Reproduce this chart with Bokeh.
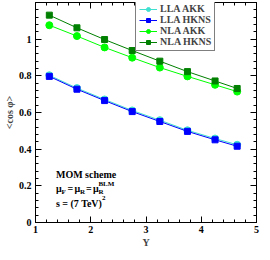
from bokeh.plotting import figure
from bokeh.models import (Range1d, LinearAxis, SingleIntervalTicker, Legend, LegendItem,
                          Label, CustomJSTickFormatter)
from bokeh.embed import file_html
from bokeh.resources import INLINE

# ---- data ----
rapidity = [1.25, 1.75, 2.25, 2.75, 3.25, 3.75, 4.25, 4.65]
lla_akk = [0.803, 0.733, 0.671, 0.611, 0.558, 0.503, 0.458, 0.424]
lla_hkns = [0.797, 0.727, 0.665, 0.605, 0.551, 0.497, 0.451, 0.416]
nla_akk = [1.076, 1.017, 0.955, 0.899, 0.845, 0.797, 0.751, 0.714]
nla_hkns = [1.131, 1.062, 0.998, 0.938, 0.880, 0.823, 0.772, 0.731]
series_names = ["LLA AKK", "LLA HKNS", "NLA AKK", "NLA HKNS"]
x_label = "Y"
y_label = "<cos \u03c6>"

FONT = "Liberation Serif"

p = figure(width=260, height=250, output_backend="svg", toolbar_location=None,
           x_range=Range1d(1, 5), y_range=Range1d(0, 1.2),
           min_border_left=0, min_border_right=4, min_border_top=2, min_border_bottom=0)
p.grid.visible = False
p.outline_line_color = "black"
p.background_fill_color = "white"

xt = SingleIntervalTicker(interval=1, num_minor_ticks=5)
yt = SingleIntervalTicker(interval=0.2, num_minor_ticks=5)
yfmt = CustomJSTickFormatter(code="return String(Number(tick.toFixed(2)));")
blank = CustomJSTickFormatter(code="return '';")

bx = p.below[0]
ly = p.left[0]
bx.ticker = xt
ly.ticker = yt
ly.formatter = yfmt
tx = LinearAxis(ticker=xt, formatter=blank, major_label_standoff=0)
ry = LinearAxis(ticker=yt, formatter=blank, major_label_standoff=0)
p.add_layout(tx, "above")
p.add_layout(ry, "right")

for ax in (bx, ly, tx, ry):
    ax.major_tick_in = 6
    ax.major_tick_out = 0
    ax.minor_tick_in = 3
    ax.minor_tick_out = 0
    ax.axis_line_color = "black"
    ax.major_tick_line_color = "black"
    ax.minor_tick_line_color = "black"
    ax.major_label_text_font = FONT
    ax.major_label_text_font_style = "bold"
    ax.major_label_text_color = "black"
    ax.major_label_text_font_size = "10px"

bx.major_label_standoff = 3
ly.major_label_standoff = 4
bx.axis_label = x_label
ly.axis_label = y_label
for ax in (bx, ly):
    ax.axis_label_text_font = FONT
    ax.axis_label_text_font_style = "bold"
    ax.axis_label_text_font_size = "10px"
    ax.axis_label_standoff = 1

styles = [
    ("#40E0D0", "circle", 7),
    ("#0000FF", "square", 6),
    ("#00FF00", "circle", 7),
    ("#008000", "square", 6),
]
data = [lla_akk, lla_hkns, nla_akk, nla_hkns]
items = []
for name, vals, (col, mk, sz) in zip(series_names, data, styles):
    ln = p.line(rapidity, vals, line_color=col, line_width=1)
    sc = p.scatter(rapidity, vals, marker=mk, size=sz, fill_color=col, line_color=col)
    items.append(LegendItem(label=name, renderers=[ln, sc]))

legend = Legend(items=items, location=(100, 171))
legend.label_text_font = FONT
legend.label_text_font_style = "bold"
legend.label_text_font_size = "10px"
legend.label_height = 10
legend.glyph_height = 10
legend.glyph_width = 18
legend.label_standoff = 3
legend.spacing = 0
legend.padding = 3
legend.margin = 0
legend.border_line_color = "black"
legend.border_line_width = 1
legend.background_fill_alpha = 1
p.add_layout(legend, "center")

# ---- annotations ----
def put(text, x, y, dx=0, dy=0, size="10px"):
    p.add_layout(Label(x=x, y=y, x_offset=dx, y_offset=dy, text=text,
                       text_font=FONT, text_font_style="bold", text_font_size=size,
                       text_baseline="middle", text_align="left", text_color="black"))

ax0 = 1.37
put("MOM scheme", ax0, 0.262)
yl = 0.185
put("\u03bc", ax0, yl, 0, 0)
put("F", ax0, yl, 5.5, -3, "7px")
put("=", ax0, yl, 11.5, 0)
put("\u03bc", ax0, yl, 18.5, 0)
put("R", ax0, yl, 24, -3, "7px")
put("=", ax0, yl, 30, 0)
put("\u03bc", ax0, yl, 37, 0)
put("R", ax0, yl, 42.5, -3, "7px")
put("BLM", ax0, yl, 42.5, 5, "7px")
ys = 0.105
put("s = (7 TeV)", ax0, ys)
put("2", ax0, ys, 46, 5, "7px")

open("out.html", "w").write(file_html(p, INLINE))
